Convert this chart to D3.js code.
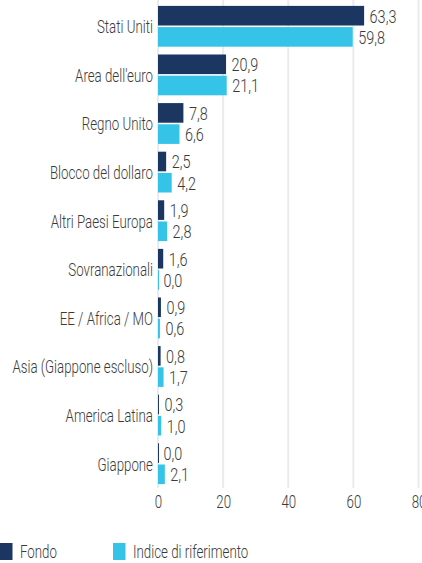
<!DOCTYPE html>
<html>
<head>
<meta charset="utf-8">
<script src="https://cdn.jsdelivr.net/npm/d3@7"></script>
<style>
  body { margin: 0; background: #fff; }
  text { font-family: Roboto, "Noto Sans", sans-serif; font-weight: 300; fill: #3a3a3a; }
</style>
</head>
<body>
<div id="chart"></div>
<script>
var svgWidth = 422;
var svgHeight = 563;

// data
var regions = ["Stati Uniti", "Area dell'euro", "Regno Unito", "Blocco del dollaro", "Altri Paesi Europa",
  "Sovranazionali", "EE / Africa / MO", "Asia (Giappone escluso)", "America Latina", "Giappone"];
var fondo = [63.3, 20.9, 7.8, 2.5, 1.9, 1.6, 0.9, 0.8, 0.3, 0.0];
var indice = [59.8, 21.1, 6.6, 4.2, 2.8, 0.0, 0.6, 1.7, 1.0, 2.1];
var xTicks = [0, 20, 40, 60, 80];
var seriesNames = ["Fondo", "Indice di riferimento"];
var seriesKeys = ["fondo", "indice"];

var colors = { fondo: "#1b3660", indice: "#35c4e8" };

// no condensed font installed, so squeeze the text horizontally
var squeeze = 0.7;
var squeezeNum = 0.76;

var data = regions.map(function(r, i) {
  return { region: r, fondo: fondo[i], indice: indice[i] };
});

var svg = d3.select("#chart")
  .append("svg")
  .attr("width", svgWidth)
  .attr("height", svgHeight);

var xScale = d3.scaleLinear()
  .domain([0, 80])
  .range([158, 418.5]);

var yScale = d3.scaleBand()
  .domain(regions)
  .range([2, 488])
  .paddingInner(0.16)
  .paddingOuter(0.08);

var ySub = d3.scaleBand()
  .domain(seriesKeys)
  .range([0, yScale.bandwidth()])
  .paddingInner(0.075);

// gridlines
svg.append("g")
  .selectAll("line")
  .data(xTicks)
  .enter()
  .append("line")
  .attr("x1", d => xScale(d))
  .attr("x2", d => xScale(d))
  .attr("y1", 0)
  .attr("y2", 488)
  .attr("stroke", "#ebebeb")
  .attr("stroke-width", 2);

// x axis, labels only
var xAxis = svg.append("g")
  .attr("transform", "translate(0, 490)")
  .call(d3.axisBottom(xScale).tickValues(xTicks).tickSize(0).tickPadding(5));
xAxis.select(".domain").remove();
xAxis.selectAll("text")
  .style("font-size", "19px")
  .attr("font-family", null)
  .attr("fill", "#3a3a3a")
  .attr("transform", `scale(${squeeze},1)`);

// category labels
svg.append("g")
  .selectAll("text")
  .data(data)
  .enter()
  .append("text")
  .attr("transform", d => `translate(153, ${yScale(d.region) + yScale.bandwidth() / 2}) scale(${squeeze},1)`)
  .attr("dy", "0.36em")
  .attr("text-anchor", "end")
  .style("font-size", "19px")
  .text(d => d.region);

// bars
var groups = svg.append("g")
  .selectAll("g")
  .data(data)
  .enter()
  .append("g")
  .attr("transform", d => `translate(0, ${yScale(d.region)})`);

groups.selectAll("rect")
  .data(d => seriesKeys.map(k => ({ key: k, value: d[k] })))
  .enter()
  .append("rect")
  .attr("x", xScale(0))
  .attr("y", d => ySub(d.key))
  .attr("width", d => Math.max(xScale(d.value) - xScale(0), d.value > 0 ? 0 : 1))
  .attr("height", ySub.bandwidth())
  .attr("fill", d => colors[d.key]);

// value labels
groups.selectAll("text")
  .data(d => seriesKeys.map(k => ({ key: k, value: d[k] })))
  .enter()
  .append("text")
  .attr("transform", d => `translate(${xScale(d.value) + 5.5}, ${ySub(d.key) + ySub.bandwidth() / 2}) scale(${squeezeNum},1)`)
  .attr("dy", "0.36em")
  .style("font-size", "19px")
  .text(d => d.value.toFixed(1).replace(".", ","));

// legend
var legend = svg.append("g")
  .attr("transform", "translate(0, 543)");

var legendX = [0, 113];
seriesKeys.forEach(function(k, i) {
  legend.append("rect")
    .attr("x", legendX[i])
    .attr("y", 0)
    .attr("width", 12.5)
    .attr("height", 17)
    .attr("fill", colors[k]);
  legend.append("text")
    .attr("transform", `translate(${legendX[i] + 20}, 15) scale(${squeeze},1)`)
    .style("font-size", "19px")
    .text(seriesNames[i]);
});
</script>
</body>
</html>
